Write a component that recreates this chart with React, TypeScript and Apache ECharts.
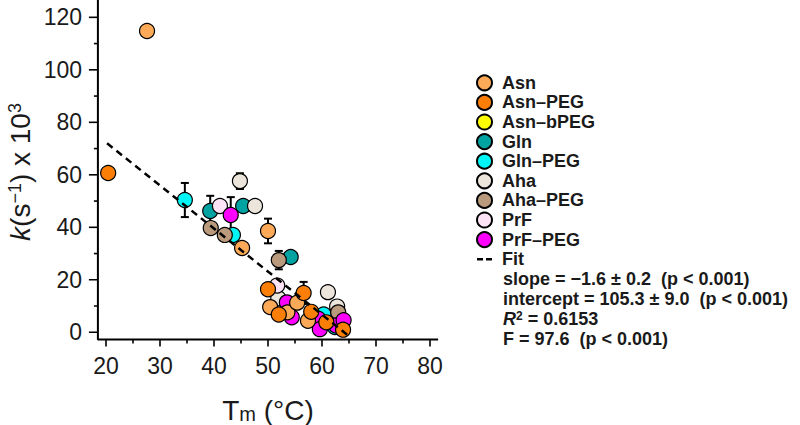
import React, { useEffect, useRef } from "react";
import * as echarts from "echarts";

const FONT = "'Liberation Sans', Arial, Helvetica, sans-serif";
const INK = "#1a1a1a";

// Category names (legend order)
const seriesNames = ["Asn", "Asn–PEG", "Asn–bPEG", "Gln", "Gln–PEG", "Aha", "Aha–PEG", "PrF", "PrF–PEG"];
const seriesColors = ["#fdaa58", "#fb7f07", "#ffff00", "#00a2a2", "#00f6f6", "#ece5dc", "#b99a7c", "#fde3f6", "#ff00ff"];

// [Tm (°C), k x 10^3]
const asn = [[27.6, 114.8], [45.2, 32.1], [50.0, 38.6], [50.4, 9.6], [53.6, 7.6], [55.4, 11.3], [57.4, 4.4]];
const asnPeg = [[20.4, 60.7], [50.0, 16.4], [56.6, 15.0], [52.0, 6.8], [58.0, 7.8], [60.8, 3.8], [63.9, 1.0]];
const asnBpeg: number[][] = [];
const gln = [[39.3, 46.2], [45.4, 48.1], [54.2, 28.7]];
const glnPeg = [[34.6, 50.4], [43.5, 37.1], [60.3, 6.8], [62.4, 2.0]];
const aha = [[44.8, 57.6], [47.6, 48.1], [51.9, 13.0], [61.1, 15.3], [62.8, 9.8]];
const ahaPeg = [[39.4, 39.7], [42.0, 37.1], [52.0, 27.5], [63.0, 7.6]];
const prf = [[41.1, 48.1], [51.7, 17.8]];
const prfPeg = [[43.1, 44.7], [53.5, 11.4], [54.4, 5.7], [59.3, 5.2], [59.6, 1.2], [62.6, 2.6], [64.0, 4.6]];
const seriesData = [asn, asnPeg, asnBpeg, gln, glnPeg, aha, ahaPeg, prf, prfPeg];

// error bars: [x, low, high]
const errorBars = [
  [50.0, 33.9, 43.3],
  [56.6, 10.8, 19.2],
  [39.3, 40.4, 52.0],
  [52.0, 24.0, 31.0],
  [34.6, 43.9, 56.9],
  [44.8, 54.6, 60.6],
  [43.1, 37.9, 51.5],
];

// fit line end points
const fitLine = [[20.2, 72.0], [65.2, -1.8]];

// visible axis extents (where the axis lines start and end)
const xRange = [18.5, 81.5];
const yRange = [-2.7, 126.6];
// scale extents of the slightly larger plotting area that also holds the axis frame and its ticks
const xScale = [15.185, 82.963];
const yScale = [-5.6, 126.6];
// ticks
const xMajorTicks = [20, 30, 40, 50, 60, 70, 80];
const xMinorTicks = [25, 35, 45, 55, 65, 75];
const yMajorTicks = [0, 20, 40, 60, 80, 100, 120];
const yMinorTicks = [10, 30, 50, 70, 90, 110];

const statLines = [
  "slope = −1.6 ± 0.2  (p < 0.001)",
  "intercept = 105.3 ± 9.0  (p < 0.001)",
  "{i|R}{sup|2} = 0.6153",
  "F = 97.6  (p < 0.001)",
];

const GRID = { left: 80, right: 354, top: 0, bottom: 78 };
const W = 800;
const H = 425;

export default function App() {
  const ref = useRef<HTMLDivElement>(null);
  useEffect(() => {
    if (!ref.current) return;
    const chart = echarts.init(ref.current, undefined, { renderer: "svg" });

    // data units per pixel of the plotting area (for tick lengths given in pixels)
    const xPerPx = (xScale[1] - xScale[0]) / (W - GRID.left - GRID.right);
    const yPerPx = (yScale[1] - yScale[0]) / (H - GRID.top - GRID.bottom);

    const scatterSeries = seriesNames.map((name, i) => ({
      name,
      type: "scatter",
      xAxisIndex: 0,
      yAxisIndex: 0,
      data: seriesData[i],
      symbol: "circle",
      symbolSize: 15,
      z: i <= 1 ? 4 : 3,
      itemStyle: { color: seriesColors[i], borderColor: "#000", borderWidth: 1.2, opacity: 1 },
      emphasis: { disabled: true },
    }));

    const segment = (name: string, data: number[][], width: number) => ({
      name,
      type: "line",
      xAxisIndex: 0,
      yAxisIndex: 0,
      data,
      symbol: "none",
      showSymbol: false,
      silent: true,
      z: 5,
      lineStyle: { color: "#000", width, type: "solid" },
      itemStyle: { color: "#000" },
      emphasis: { disabled: true },
    });

    const frameSeries = [
      segment("axisFrame", [
        [xRange[0], yRange[1]],
        [xRange[0], yRange[0]],
        [xRange[1], yRange[0]],
      ], 2),
      ...xMajorTicks.map((v, i) => segment("xMaj" + i, [[v, yRange[0]], [v, yRange[0] - 7 * yPerPx]], 1.6)),
      ...xMinorTicks.map((v, i) => segment("xMin" + i, [[v, yRange[0]], [v, yRange[0] - 4 * yPerPx]], 1.6)),
      ...yMajorTicks.map((v, i) => segment("yMaj" + i, [[xRange[0], v], [xRange[0] - 9 * xPerPx, v]], 1.6)),
      ...yMinorTicks.map((v, i) => segment("yMin" + i, [[xRange[0], v], [xRange[0] - 4 * xPerPx, v]], 1.6)),
    ];

    const option: any = {
      animation: false,
      backgroundColor: "#fff",
      grid: GRID,
      xAxis: [
        {
          type: "value",
          min: xScale[0],
          max: xScale[1],
          offset: -8,
          axisLine: { show: false, onZero: false },
          axisTick: { show: false },
          axisLabel: { show: true, margin: 15, fontSize: 23, color: INK, fontFamily: FONT, customValues: xMajorTicks },
          minorTick: { show: false },
          splitLine: { show: false },
        },
      ],
      yAxis: [
        {
          type: "value",
          min: yScale[0],
          max: yScale[1],
          offset: -18,
          axisLine: { show: false, onZero: false },
          axisTick: { show: false },
          axisLabel: { show: true, margin: 16, fontSize: 23, color: INK, fontFamily: FONT, customValues: yMajorTicks },
          splitLine: { show: false },
        },
      ],
      legend: {
        orient: "vertical",
        left: 471,
        top: 68,
        itemWidth: 15,
        itemHeight: 15,
        itemGap: 0,
        selectedMode: false,
        data: [
          ...seriesNames,
          { name: "Fit", icon: "path://M0,0h6v2.4H0z M9,0h6v2.4H9z", itemStyle: { color: "#000", borderWidth: 0 } },
        ],
        textStyle: {
          fontSize: 18,
          fontWeight: "bold",
          color: INK,
          fontFamily: FONT,
          lineHeight: 19.6,
          padding: [0, 0, 0, 5],
        },
      },
      graphic: [
        {
          type: "text",
          x: 20,
          y: 172,
          rotation: Math.PI / 2,
          style: {
            text: "{i|k}(s{sup|−1}) x 10{sup|3}",
            fontSize: 28,
            fontFamily: FONT,
            fill: INK,
            align: "center",
            verticalAlign: "middle",
            rich: {
              i: { fontSize: 28, fontStyle: "italic", fontFamily: FONT, fill: INK },
              sup: { fontSize: 18, fontFamily: FONT, fill: INK, verticalAlign: "top" },
            },
          },
        },
        {
          type: "text",
          x: 268,
          y: 410,
          style: {
            text: "T{sub|m} (°C)",
            fontSize: 28,
            fontFamily: FONT,
            fill: INK,
            align: "center",
            verticalAlign: "middle",
            rich: {
              sub: { fontSize: 20, fontFamily: FONT, fill: INK, verticalAlign: "bottom" },
            },
          },
        },
        ...statLines.map((t, i) => ({
          type: "text",
          x: 503,
          y: 279 + i * 20,
          style: {
            text: t,
            fontSize: 18,
            fontWeight: "bold",
            fontFamily: FONT,
            fill: INK,
            align: "left",
            verticalAlign: "middle",
            rich: {
              i: { fontSize: 18, fontWeight: "bold", fontStyle: "italic", fontFamily: FONT, fill: INK },
              sup: { fontSize: 12, fontWeight: "bold", fontFamily: FONT, fill: INK, verticalAlign: "top" },
            },
          },
        })),
      ],
      series: [
        ...frameSeries,
        {
          name: "errors",
          type: "custom",
          xAxisIndex: 0,
          yAxisIndex: 0,
          z: 2,
          data: errorBars,
          encode: { x: 0, y: [1, 2] },
          renderItem: (params: any, api: any) => {
            const x = api.value(0);
            const lo = api.coord([x, api.value(1)]);
            const hi = api.coord([x, api.value(2)]);
            const w = 4;
            const style = { stroke: "#000", lineWidth: 2 };
            return {
              type: "group",
              children: [
                { type: "line", shape: { x1: lo[0], y1: lo[1], x2: hi[0], y2: hi[1] }, style },
                { type: "line", shape: { x1: lo[0] - w, y1: lo[1], x2: lo[0] + w, y2: lo[1] }, style },
                { type: "line", shape: { x1: hi[0] - w, y1: hi[1], x2: hi[0] + w, y2: hi[1] }, style },
              ],
            };
          },
        },
        ...scatterSeries,
        {
          name: "Fit",
          type: "line",
          xAxisIndex: 0,
          yAxisIndex: 0,
          data: fitLine,
          symbol: "none",
          z: 6,
          lineStyle: { color: "#000", width: 2.5, type: [7, 5] },
          itemStyle: { color: "#000" },
          emphasis: { disabled: true },
        },
      ],
    };
    chart.setOption(option);
    return () => chart.dispose();
  }, []);
  return (
    <div
      ref={ref}
      style={{ position: "fixed", left: 0, top: 0, width: W, height: H, background: "#fff" }}
    />
  );
}
